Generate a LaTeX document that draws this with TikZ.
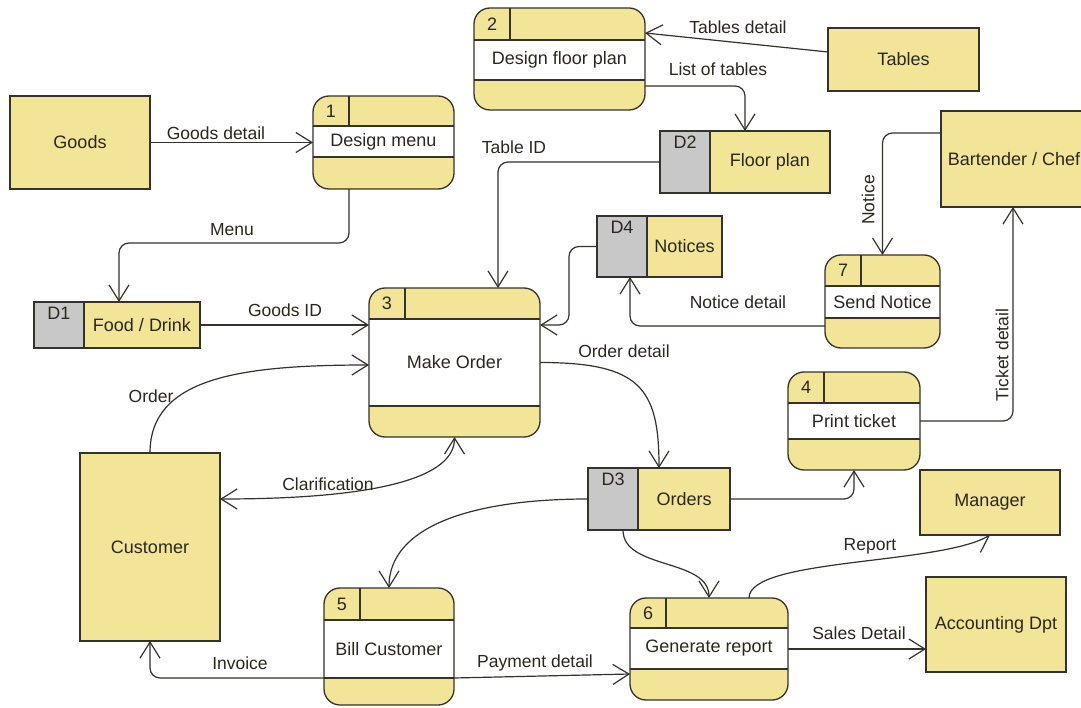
\documentclass[tikz,border=0pt]{standalone}
\usepackage{fontspec}
\setmainfont{Liberation Sans}
\usetikzlibrary{arrows.meta,calc}

\definecolor{dfdyel}{RGB}{242,229,152}
\definecolor{dfdgray}{RGB}{200,200,200}
\definecolor{dfdline}{RGB}{52,50,44}
\definecolor{dfdtext}{RGB}{42,40,30}

\tikzset{
  barb/.tip={Straight Barb[length=16pt,width=20pt]},
  flow/.style={draw=dfdline, line width=1.2pt, -barb, rounded corners=10pt},
  biflow/.style={flow, barb-barb},
  procrule/.style={draw=dfdline, line width=1.3pt},
  ntext/.style={text=dfdtext, font=\fontsize{18}{21}\selectfont, inner sep=0pt},
  ftext/.style={text=dfdtext, font=\fontsize{17.5}{20}\selectfont, inner sep=0pt},
  entity/.style={draw=dfdline, fill=dfdyel, line width=1.3pt, anchor=north west,
                 inner sep=0pt, outer sep=0pt, text=dfdtext, font=\fontsize{18}{21}\selectfont},
  procbody/.style={fill=dfdyel, rounded corners=16pt, anchor=north west, inner sep=0pt, outer sep=0pt},
  storebody/.style={fill=dfdyel, anchor=north west, inner sep=0pt, outer sep=0pt},
}

% process: name, left, top, width, height, header depth, lower band top, number, title
\newcommand{\dfdproc}[9]{%
  \node[procbody, minimum width=#4pt, minimum height=#5pt] (#1) at (#2,#3) {};
  \fill[white] ($(#1.north west)+(0,#6)$) rectangle ($(#1.north east)+(0,#7)$);
  \draw[procrule] ($(#1.north west)+(0,#6)$) -- ($(#1.north east)+(0,#6)$)
                  ($(#1.north west)+(0,#7)$) -- ($(#1.north east)+(0,#7)$)
                  ($(#1.north west)+(36,0)$) -- ($(#1.north west)+(36,#6)$);
  \draw[procrule, rounded corners=16pt] (#1.north west) rectangle (#1.south east);
  \node[ntext] (#1-num) at ($(#1.north west)+(18,{#6/2})$) {#8};
  \node[ntext] (#1-title) at ($(#1.north)+(0,{(#6+#7)/2})$) {#9};
}

% data store: name, left, top, width, height, id, title
\newcommand{\dfdstore}[7]{%
  \node[storebody, minimum width=#4pt, minimum height=#5pt] (#1) at (#2,#3) {};
  \fill[dfdgray] (#1.north west) rectangle ($(#1.south west)+(50,0)$);
  \draw[procrule] ($(#1.north west)+(50,0)$) -- ($(#1.south west)+(50,0)$);
  \draw[procrule] (#1.north west) rectangle (#1.south east);
  \node[ntext] (#1-id) at ($(#1.north west)+(25,11)$) {#6};
  \node[ntext] (#1-title) at ($(#1.center)+(25,0)$) {#7};
}

\begin{document}
\begin{tikzpicture}[x=1pt,y=-1pt]
  \fill[white] (0,0) rectangle (1081,708);
  \useasboundingbox (0,0) rectangle (1081,708);

  % external entities
  \node[entity, minimum width=140pt, minimum height=93pt]  (goods)  at (10,96)   {Goods};
  \node[entity, minimum width=151pt, minimum height=63pt]  (tables) at (828,28)  {Tables};
  \node[entity, minimum width=149pt, minimum height=96pt]  (bart)   at (941,111) {\hspace*{-3pt}Bartender / Chef};
  \node[entity, minimum width=140pt, minimum height=188pt] (cust)   at (80,453)  {Customer};
  \node[entity, minimum width=140pt, minimum height=65pt]  (mgr)    at (920,470) {Manager};
  \node[entity, minimum width=140pt, minimum height=95pt]  (acct)   at (926,577) {Accounting Dpt};

  % processes
  \dfdproc{p1}{313}{96}{141}{93}{30}{61}{1}{Design menu}
  \dfdproc{p2}{474}{8}{171}{102}{32}{72}{2}{Design floor plan}
  \dfdproc{p3}{369}{288}{171}{149}{31}{118}{3}{Make Order}
  \dfdproc{p4}{788}{372}{132}{98}{31}{67}{4}{Print ticket}
  \dfdproc{p5}{324}{588}{130}{117}{32}{90}{5}{Bill Customer}
  \dfdproc{p6}{630}{598}{158}{102}{30}{71}{6}{Generate report}
  \dfdproc{p7}{825}{255}{115}{93}{31}{63}{7}{Send Notice}

  % data stores
  \dfdstore{d1}{34}{302}{166}{46}{D1}{Food / Drink}
  \dfdstore{d2}{660}{131}{170}{62}{D2}{Floor plan}
  \dfdstore{d3}{588}{468}{142}{62}{D3}{Orders}
  \dfdstore{d4}{597}{216}{125}{61}{D4}{Notices}

  % data flows
  \draw[flow] (goods.east) -- (p1.west);
  \draw[flow] ($(p1.south west)+(36,0)$) -- ++(0,54) -| ($(d1.north west)+(85,0)$);
  \draw[flow] ($(tables.west)+(0,-7.5)$) -- ($(p2.north east)+(0,25)$);
  \draw[flow] ($(p2.south east)+(0,-24)$) -| ($(d2.north west)+(85,0)$);
  \draw[flow] (d2.west) -| ($(p3.north west)+(129,0)$);
  \draw[flow] (d4.west) -- ++(-28,0) |- ($(p3.north east)+(0,37)$);
  \draw[flow] ($(p7.south west)+(0,-22)$) -| ($(d4.south west)+(33,0)$);
  \draw[flow] ($(bart.north west)+(0,22)$) -| (p7.north);
  \draw[flow] (p4.east) -| ($(bart.south west)+(72,0)$);
  \draw[flow] (d1.east) -- (d1.east -| p3.west);
  \draw[flow] (cust.north) .. controls +(0,-75) and +(-130,0) .. ($(p3.north west)+(0,77)$);
  \draw[biflow] (p3.south) .. controls +(0,40) and +(160,0) .. ($(cust.north east)+(0,46)$);
  \draw[flow] (p3.east) .. controls +(100,0) and +(0,-80) .. (d3.north);
  \draw[flow] (d3.east) -| (p4.south);
  \draw[flow] (d3.west) .. controls +(-120,0) and +(0,-60) .. (p5.north);
  \draw[flow] ($(d3.south west)+(35,0)$) .. controls +(0,40) and +(0,-40) .. (p6.north);
  \draw[flow] ($(p6.north west)+(119,0)$) .. controls +(0,-40) and +(-50,30) .. (mgr.south);
  \draw[flow] (p6.east) -- (p6.east -| acct.west);
  \draw[flow] ($(p5.south east)+(0,-27)$) -- ($(p6.south west)+(0,-26)$);
  \draw[flow] ($(p5.south west)+(0,-27)$) -| (cust.south);

  % flow labels
  \node[ftext] (l-goodsdetail) at (216,133) {Goods detail};
  \node[ftext] (l-menu)        at (232,230) {Menu};
  \node[ftext] (l-tablesdet)   at (738,27)  {Tables detail};
  \node[ftext] (l-listtables)  at (718,69)  {List of tables};
  \node[ftext] (l-tableid)     at (514,147) {Table ID};
  \node[ftext, rotate=90] (l-notice) at (868,200) {Notice};
  \node[ftext] (l-goodsid)     at (285,310) {Goods ID};
  \node[ftext] (l-noticedet)   at (738,302) {Notice detail};
  \node[ftext] (l-orderdet)    at (624,351) {Order detail};
  \node[ftext] (l-order)       at (151,396) {Order};
  \node[ftext, rotate=90] (l-ticket) at (1002,355) {Ticket detail};
  \node[ftext] (l-clarify)     at (328,484) {Clarification};
  \node[ftext] (l-report)      at (870,546) {Report};
  \node[ftext] (l-sales)       at (859,633) {Sales Detail};
  \node[ftext] (l-payment)     at (535,663) {Payment detail};
  \node[ftext] (l-invoice)     at (240,663) {Invoice};
\end{tikzpicture}
\end{document}
